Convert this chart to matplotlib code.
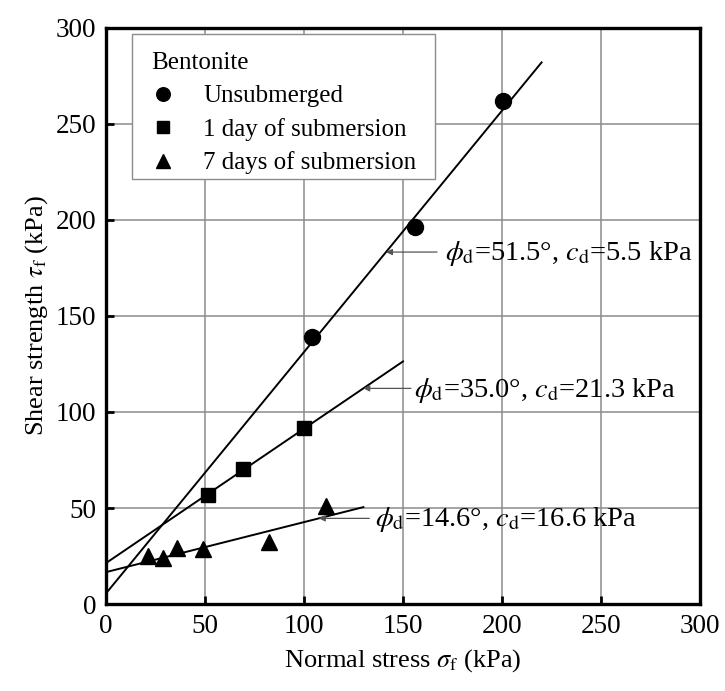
import numpy as np
import matplotlib
matplotlib.use("Agg")
import matplotlib.pyplot as plt
from matplotlib.patches import Rectangle

plt.rcParams["font.family"] = ["Liberation Serif", "DejaVu Serif"]
plt.rcParams["mathtext.fontset"] = "stix"

# Direct shear test results on bentonite
unsub_x = [103.9, 156.1, 200.7]
unsub_y = [138.9, 196.5, 262.0]
day1_x = [51.7, 69.0, 100.0]
day1_y = [56.8, 70.3, 91.5]
day7_x = [21.0, 29.0, 35.7, 48.8, 82.3, 111.0]
day7_y = [25.0, 23.8, 29.0, 28.5, 32.1, 51.0]

# Mohr-Coulomb strength parameters (friction angle in degrees, cohesion in kPa)
phi_d = [51.5, 35.0, 14.6]
c_d = [5.5, 21.3, 16.6]
fit_xmax = [220, 150, 130]

series_labels = ["Unsubmerged", "1 day of submersion", "7 days of submersion"]
ticks = [0, 50, 100, 150, 200, 250, 300]

fig = plt.figure(figsize=(7.25, 6.91), dpi=100)
ax = fig.add_axes([0.1462, 0.1259, 0.8193, 0.8336])

ax.set_xlim(0, 300)
ax.set_ylim(0, 300)
ax.set_xticks(ticks)
ax.set_yticks(ticks)
ax.grid(True, color="#8c8c8c", lw=1.1)
ax.set_axisbelow(True)
for s in ax.spines.values():
    s.set_linewidth(2.4)
ax.tick_params(direction="in", length=6, width=2, labelsize=19.5, pad=7)

# fitted failure envelopes
for phi, c, xm in zip(phi_d, c_d, fit_xmax):
    xs = np.array([0, xm])
    ax.plot(xs, c + np.tan(np.radians(phi)) * xs, color="black", lw=1.4, zorder=3)

h1, = ax.plot(unsub_x, unsub_y, "o", color="black", ms=11.5, zorder=4, label=series_labels[0])
h2, = ax.plot(day1_x, day1_y, "s", color="black", ms=9.5, zorder=4, label=series_labels[1])
h3, = ax.plot(day7_x, day7_y, "^", color="black", ms=12, zorder=4, label=series_labels[2])

leg = ax.legend(handles=[h1, h2, h3], title="Bentonite", loc="upper left",
                bbox_to_anchor=(0.044, 0.99), borderaxespad=0,
                fontsize=18, title_fontsize=18, frameon=False,
                handlelength=1.0, handletextpad=1.1, labelspacing=0.42,
                borderpad=0.75, markerscale=0.85)
leg._legend_box.align = "left"
leg.set_zorder(6)

# legend frame: tight below the last entry
fig.canvas.draw()
bb = leg.get_window_extent()
(x0, y0), (x1, y1) = ax.transAxes.inverted().transform([[bb.x0, bb.y0 + 14], [bb.x1, bb.y1]])
ax.add_patch(Rectangle((x0, y0), x1 - x0, y1 - y0, transform=ax.transAxes,
                       facecolor="white", edgecolor="#8c8c8c", lw=1.0, zorder=5.5))

# strength parameter annotations with leader arrows
ann_y = [183.3, 112.3, 44.6]
ann_start = [167.2, 154.0, 133.0]
text_x = [171.2, 155.8, 135.9]
text_base = [179.2, 108.0, 40.6]
for phi, c, y, xs, tx, ty in zip(phi_d, c_d, ann_y, ann_start, text_x, text_base):
    x_line = (y - c) / np.tan(np.radians(phi))
    ax.annotate("", xy=(x_line, y), xytext=(xs, y),
                arrowprops=dict(arrowstyle="-|>", color="#555555", lw=0.9,
                                mutation_scale=9, shrinkA=0, shrinkB=0),
                zorder=5)
    ax.text(tx, ty, rf"$\phi_\mathrm{{d}}$={phi:.1f}°, $c_\mathrm{{d}}$={c:.1f} kPa",
            fontsize=20.5, va="baseline", ha="left", zorder=6)

ax.set_xlabel(r"Normal stress $\sigma_\mathrm{f}$ (kPa)", fontsize=19, labelpad=6)
ax.set_ylabel(r"Shear strength $\tau_\mathrm{f}$ (kPa)", fontsize=19, labelpad=4)

fig.savefig("out.png", dpi=100)
